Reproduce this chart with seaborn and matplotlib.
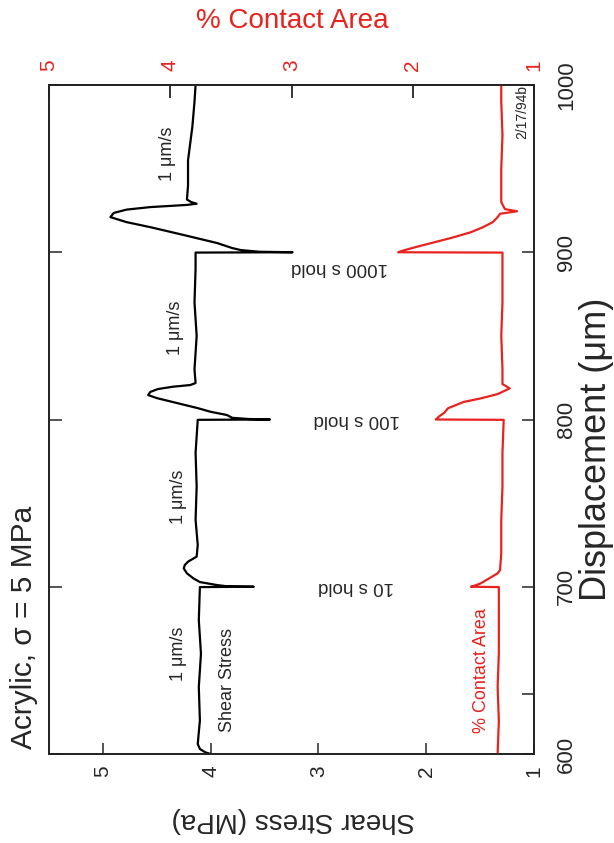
import matplotlib
matplotlib.use("Agg")
import matplotlib.pyplot as plt
import seaborn as sns

# ---------------- data ----------------
disp_shear = [600, 601, 603, 606, 620, 640, 660, 680, 699.8, 700, 700.3, 701, 702.8, 705, 708, 711,
              713, 715, 718, 725, 740, 760, 780, 799.8, 800, 800.3, 801, 802.7, 804.6, 806.8, 809.8,
              812.8, 814.6, 816.5, 818.2, 819.6, 820.6, 821.8, 830, 850, 870, 890, 899.8, 900, 900.3,
              901.3, 902.5, 905.5, 910.3, 915, 918, 921, 923.5, 925.5, 927, 928.3, 929, 930, 931.5,
              940, 955, 975, 990, 1000]
shear = [4.0, 4.05, 4.1, 4.12, 4.1, 4.11, 4.09, 4.11, 4.1, 3.6, 3.85, 3.94, 4.1, 4.16, 4.22, 4.25,
         4.24, 4.21, 4.13, 4.12, 4.14, 4.13, 4.14, 4.12, 3.45, 3.65, 3.8, 3.85, 4.0, 4.12, 4.31,
         4.50, 4.58, 4.56, 4.49, 4.35, 4.19, 4.14, 4.15, 4.13, 4.15, 4.14, 4.14, 3.24, 3.55,
         3.72, 3.8, 3.94, 4.25, 4.56, 4.78, 4.93, 4.9, 4.78, 4.56, 4.22, 4.13, 4.18, 4.22,
         4.21, 4.21, 4.17, 4.15, 4.14]

disp_contact = [600, 620, 640, 660, 680, 699.8, 700, 700.4, 702, 705, 708, 710, 720, 740, 760, 780,
                799.8, 800, 802, 804, 806.7, 810.5, 812.6, 815.2, 818.6, 821.2, 830, 850, 870, 890,
                899.8, 900, 901, 903, 906, 909, 912, 915, 918, 921, 923, 924.5, 925.8, 930, 950,
                970, 990, 1000]
contact = [1.30, 1.29, 1.30, 1.29, 1.29, 1.29, 1.52, 1.50, 1.44, 1.37, 1.30, 1.28, 1.27, 1.27, 1.26,
           1.26, 1.25, 1.81, 1.78, 1.74, 1.71, 1.58, 1.44, 1.30, 1.20, 1.26, 1.26, 1.27, 1.26, 1.26,
           1.26, 2.12, 2.08, 1.98, 1.82, 1.66, 1.52, 1.42, 1.34, 1.30, 1.28, 1.14, 1.24, 1.27, 1.27,
           1.26, 1.27, 1.27]

shear_ticks = [5, 4, 3, 2, 1]
contact_ticks = [5, 4, 3, 2, 1]
disp_ticks = [600, 700, 800, 900, 1000]
disp_minor_ticks = [636]

speed_labels = ["1 \u03bcm/s"] * 4
speed_pos_disp = [660, 754, 855, 959]
hold_labels = ["10 s hold", "100 s hold", "1000 s hold"]
hold_pos_disp = [700, 800, 891]

RED = "#e8221e"

sns.set_style("white")
plt.rcParams["font.family"] = ["Liberation Sans", "DejaVu Sans"]

fig = plt.figure(figsize=(6.14, 8.43), dpi=100)
ax = fig.add_axes([49 / 614, 1 - 754 / 843, 485 / 614, 669 / 843])

sns.lineplot(x=shear, y=disp_shear, sort=False, estimator=None, color="black", lw=1.6, ax=ax)
ax.set_xlim(5.5, 1)
ax.set_ylim(600, 1000)

for sp in ax.spines.values():
    sp.set_linewidth(1.2)
    sp.set_color("black")

ax.set_xticks(shear_ticks)
ax.set_xticklabels([str(t) for t in shear_ticks], rotation=90, fontsize=15)
ax.set_yticks(disp_ticks)
ax.set_yticklabels([str(t) for t in disp_ticks], rotation=90, fontsize=16, va="center")
ax.set_yticks(disp_minor_ticks, minor=True)
ax.tick_params(axis="x", direction="in", length=8, width=1.1, pad=8, bottom=True, top=False)
ax.tick_params(axis="y", which="major", direction="in", length=9, width=1.1, pad=16,
               left=True, right=True, labelleft=False, labelright=True)
ax.tick_params(axis="y", which="minor", direction="in", length=9, width=1.1,
               left=False, right=True, labelleft=False, labelright=False)

ax2 = ax.twiny()
sns.lineplot(x=contact, y=disp_contact, sort=False, estimator=None, color=RED, lw=1.6, ax=ax2)
ax2.set_xlim(5, 1)
ax2.set_ylim(600, 1000)
ax2.set_xticks(contact_ticks)
ax2.set_xticklabels([str(t) for t in contact_ticks], rotation=90, fontsize=15, color=RED)
ax2.tick_params(axis="x", direction="in", length=9, width=1.1, pad=10, colors="black", labelcolor=RED)
ax2.set_xlabel("")
ax2.set_ylabel("")
for sp in ax2.spines.values():
    sp.set_linewidth(1.2)

ax.set_xlabel("")
ax.set_ylabel("")

# axis titles
fig.text(293 / 614, 1 - 820 / 843, "Shear Stress (MPa)", rotation=180, ha="center", va="center", fontsize=20)
fig.text(292 / 614, 1 - 21 / 843, "% Contact Area", rotation=0, ha="center", va="center", fontsize=20, color=RED)
fig.text(597 / 614, 1 - 449 / 843, "Displacement (\u03bcm)", rotation=90, ha="center", va="center", fontsize=26)
fig.text(24 / 614, 1 - 627 / 843, "Acrylic, \u03c3 = 5 MPa", rotation=90, ha="center", va="center", fontsize=21.5)

# annotations
speed_pos_shear = [4.30, 4.30, 4.33, 4.40]
for lab, s, d in zip(speed_labels, speed_pos_shear, speed_pos_disp):
    ax.text(s, d, lab, rotation=90, ha="center", va="center", fontsize=13)
hold_pos_shear = [2.65, 2.64, 2.80]
for lab, s, d in zip(hold_labels, hold_pos_shear, hold_pos_disp):
    ax.text(s, d, lab, rotation=180, ha="center", va="center", fontsize=13.5)
ax.text(3.84, 644, "Shear Stress", rotation=90, ha="center", va="center", fontsize=13)
ax.text(1.49, 650, "% Contact Area", rotation=90, ha="center", va="center", fontsize=13, color=RED)
ax.text(1.11, 984, "2/17/94b", rotation=90, ha="center", va="center", fontsize=10)

fig.savefig("out.png", dpi=100)
